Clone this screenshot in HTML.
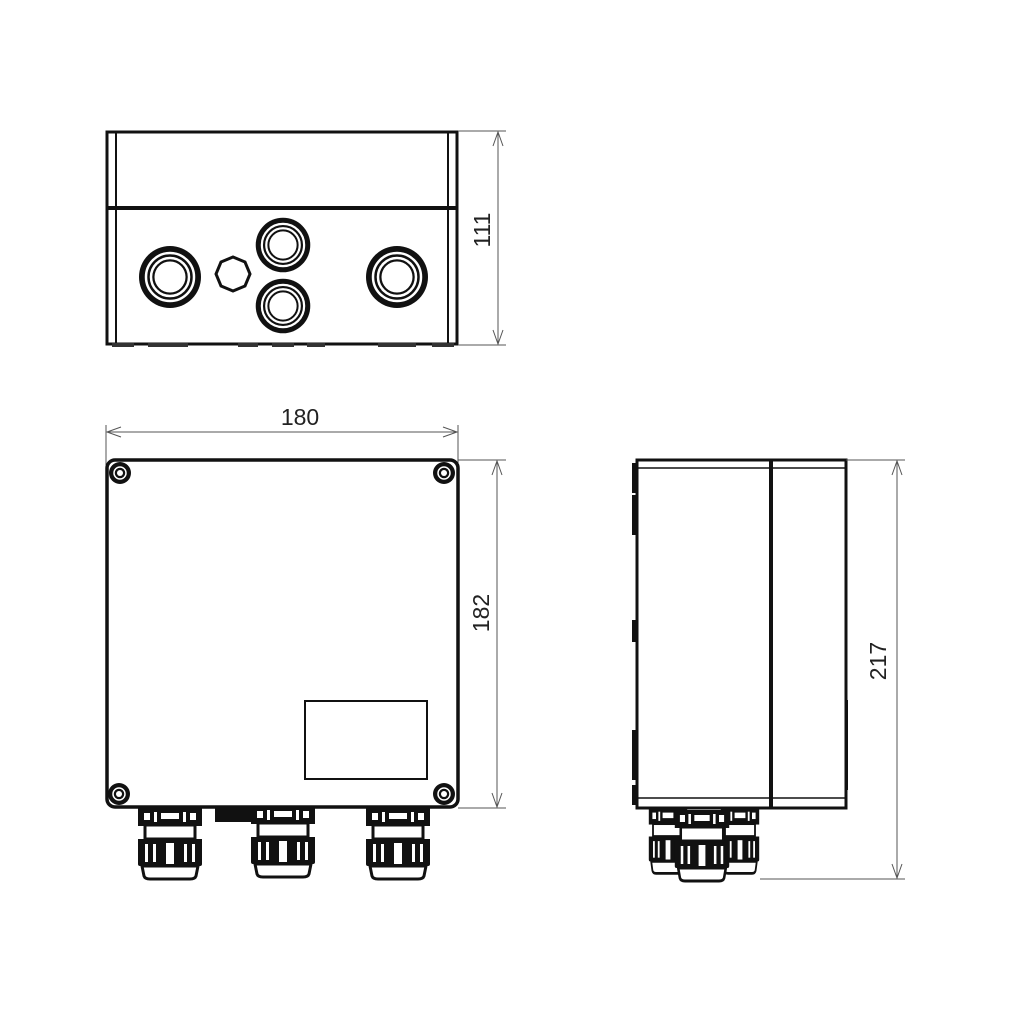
<!DOCTYPE html>
<html><head><meta charset="utf-8"><style>html,body{margin:0;padding:0;background:#fff}svg{display:block}</style></head>
<body>
<svg width="1010" height="1010" viewBox="0 0 1010 1010" xmlns="http://www.w3.org/2000/svg" font-family="Liberation Sans, sans-serif">
<defs>
<g id="gland">
  <rect x="-32" y="0" width="64" height="18" fill="#111"/>
  <rect x="-26" y="5" width="6" height="7" fill="#fff"/>
  <rect x="-16" y="4" width="3" height="10" fill="#fff"/>
  <rect x="-9" y="5" width="18" height="6" fill="#fff"/>
  <rect x="13" y="4" width="3" height="10" fill="#fff"/>
  <rect x="20" y="5" width="6" height="7" fill="#fff"/>
  <rect x="-25" y="17" width="50" height="14" fill="#fff" stroke="#111" stroke-width="3"/>
  <path d="M-32 31 H32 V56 Q32 58 30 58 H-30 Q-32 58 -32 56 Z" fill="#111"/>
  <rect x="-25" y="36" width="3" height="18" fill="#fff"/>
  <rect x="-17" y="36" width="3" height="18" fill="#fff"/>
  <rect x="-4" y="35" width="8" height="21" fill="#fff"/>
  <rect x="14" y="36" width="3" height="18" fill="#fff"/>
  <rect x="22" y="36" width="3" height="18" fill="#fff"/>
  <path d="M-28 58 H28 L26 68 Q25 71 20 71 H-20 Q-25 71 -26 68 Z" fill="#fff" stroke="#111" stroke-width="3"/>
</g>
<g id="ring">
  <circle r="31" fill="#111"/>
  <circle r="24" fill="none" stroke="#fff" stroke-width="2.5"/>
  <circle r="19" fill="none" stroke="#fff" stroke-width="2.5"/>
  <circle r="15.5" fill="#fff"/>
</g>
<g id="screw">
  <circle r="11" fill="#111"/>
  <circle r="6" fill="none" stroke="#fff" stroke-width="1.5"/>
  <circle r="3" fill="#fff"/>
</g>
</defs>

<!-- ===== Top view ===== -->
<rect x="107" y="132" width="350" height="212" fill="#fff" stroke="#111" stroke-width="3"/>
<line x1="116" y1="133" x2="116" y2="343" stroke="#111" stroke-width="2"/>
<line x1="448" y1="133" x2="448" y2="343" stroke="#111" stroke-width="2"/>
<line x1="107" y1="208" x2="457" y2="208" stroke="#111" stroke-width="4"/>
<g fill="#333">
<rect x="112" y="343" width="22" height="4"/><rect x="148" y="343" width="40" height="4"/>
<rect x="238" y="343" width="20" height="4"/><rect x="272" y="343" width="22" height="4"/>
<rect x="307" y="343" width="18" height="4"/><rect x="378" y="343" width="38" height="4"/>
<rect x="432" y="343" width="22" height="4"/>
</g>
<use href="#ring" x="170" y="277"/>
<use href="#ring" x="397" y="277"/>
<g transform="translate(283,245) scale(0.88)"><use href="#ring"/></g>
<g transform="translate(283,306) scale(0.88)"><use href="#ring"/></g>
<polygon points="250,274 245,286 233,291 221,286 216,274 221,262 233,257 245,262" fill="none" stroke="#111" stroke-width="3"/>
<line x1="458" y1="131" x2="506" y2="131" stroke="#555" stroke-width="1"/>
<line x1="458" y1="345" x2="506" y2="345" stroke="#555" stroke-width="1"/>
<line x1="498" y1="132" x2="498" y2="344" stroke="#555" stroke-width="1"/>
<path d="M493 146 L498 132 L503 146 M493 330 L498 344 L503 330" fill="none" stroke="#555" stroke-width="1"/>
<text x="484" y="230" font-size="23" text-anchor="middle" transform="rotate(-90 484 230)" dominant-baseline="middle" fill="#222">111</text>

<!-- ===== Front view ===== -->
<line x1="106" y1="425" x2="106" y2="465" stroke="#555" stroke-width="1"/>
<line x1="458" y1="425" x2="458" y2="465" stroke="#555" stroke-width="1"/>
<line x1="107" y1="432" x2="457" y2="432" stroke="#555" stroke-width="1"/>
<path d="M121 427 L107 432 L121 437 M443 427 L457 432 L443 437" fill="none" stroke="#555" stroke-width="1"/>
<text x="300" y="425" font-size="23" text-anchor="middle" fill="#222">180</text>
<rect x="107" y="460" width="351" height="347" rx="8" fill="#fff" stroke="#111" stroke-width="3.5"/>
<use href="#screw" x="120" y="473"/>
<use href="#screw" x="444" y="473"/>
<use href="#screw" x="119" y="794"/>
<use href="#screw" x="444" y="794"/>
<rect x="305" y="701" width="122" height="78" fill="#fff" stroke="#111" stroke-width="2"/>
<rect x="215" y="808" width="36" height="14" fill="#111"/>
<use href="#gland" x="170" y="808"/>
<use href="#gland" x="283" y="806"/>
<use href="#gland" x="398" y="808"/>
<line x1="458" y1="460" x2="506" y2="460" stroke="#555" stroke-width="1"/>
<line x1="458" y1="808" x2="506" y2="808" stroke="#555" stroke-width="1"/>
<line x1="497" y1="461" x2="497" y2="807" stroke="#555" stroke-width="1"/>
<path d="M492 475 L497 461 L502 475 M492 793 L497 807 L502 793" fill="none" stroke="#555" stroke-width="1"/>
<text x="483" y="613" font-size="23" text-anchor="middle" transform="rotate(-90 483 613)" dominant-baseline="middle" fill="#222">182</text>

<!-- ===== Side view ===== -->
<rect x="637" y="460" width="209" height="348" fill="#fff" stroke="#111" stroke-width="3"/>
<line x1="638" y1="468" x2="845" y2="468" stroke="#111" stroke-width="1.5"/>
<line x1="638" y1="798" x2="845" y2="798" stroke="#111" stroke-width="1.5"/>
<line x1="771" y1="460" x2="771" y2="808" stroke="#111" stroke-width="4"/>
<rect x="632" y="463" width="5" height="30" fill="#111"/>
<rect x="632" y="495" width="5" height="40" fill="#111"/>
<rect x="632" y="620" width="5" height="22" fill="#111"/>
<rect x="632" y="730" width="5" height="50" fill="#111"/>
<rect x="632" y="785" width="5" height="20" fill="#111"/>
<rect x="846" y="700" width="2" height="90" fill="#111"/>
<g transform="translate(668,808) scale(0.6,0.92)"><use href="#gland"/></g>
<g transform="translate(740,808) scale(0.6,0.92)"><use href="#gland"/></g>
<g transform="translate(702,810) scale(0.85,1)"><use href="#gland"/></g>
<line x1="760" y1="879" x2="905" y2="879" stroke="#555" stroke-width="1"/>
<line x1="846" y1="460" x2="905" y2="460" stroke="#555" stroke-width="1"/>
<line x1="897" y1="461" x2="897" y2="878" stroke="#555" stroke-width="1"/>
<path d="M892 475 L897 461 L902 475 M892 864 L897 878 L902 864" fill="none" stroke="#555" stroke-width="1"/>
<text x="880" y="661" font-size="23" text-anchor="middle" transform="rotate(-90 880 661)" dominant-baseline="middle" fill="#222">217</text>
</svg>
</body></html>
